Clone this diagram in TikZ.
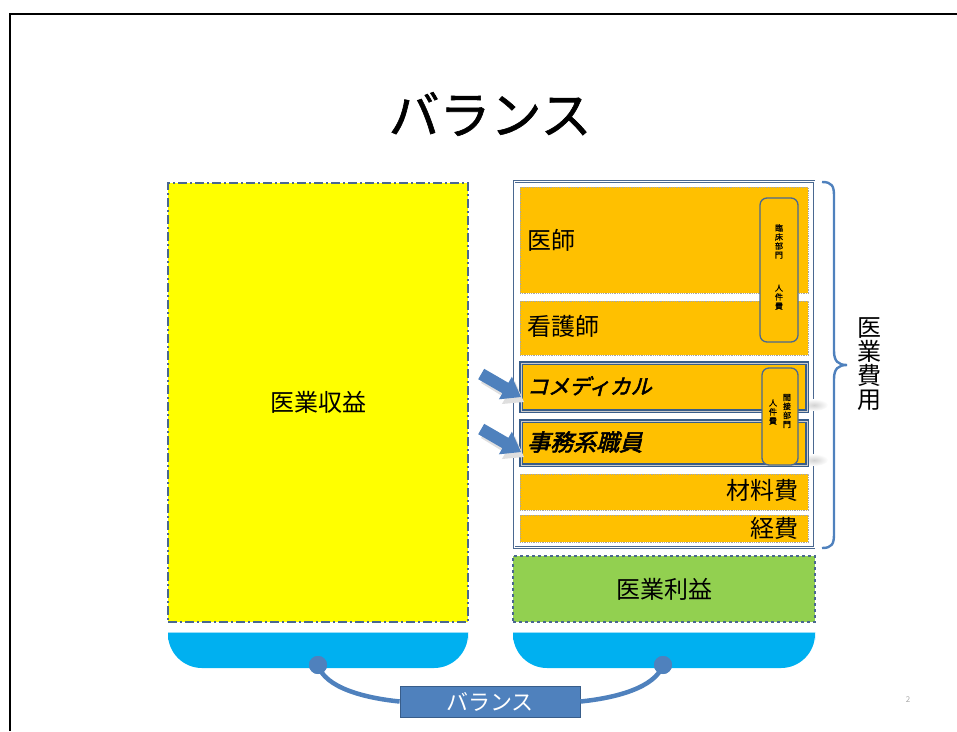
\documentclass[tikz,border=0pt]{standalone}
\usepackage{fontspec}
\setmainfont{Noto Sans CJK JP}
\newfontfamily\jpbi[FakeSlant=0.25,FakeBold=2.5]{Noto Sans CJK JP}
\newfontfamily\jpb[FakeBold=1.2]{Noto Sans CJK JP}
\definecolor{orangeC}{HTML}{FFC000}
\definecolor{yellowC}{HTML}{FFFF00}
\definecolor{greenC}{HTML}{92D050}
\definecolor{cyanC}{HTML}{00B0F0}
\definecolor{blueC}{HTML}{4F81BD}
\definecolor{steelC}{HTML}{4A6890}
\definecolor{blueD}{HTML}{385D8A}
\tikzset{
  fs/.style={font=\fontsize{#1}{#1}\selectfont},
  orangebox/.style={draw=gray!70, densely dotted, line width=0.8pt, fill=orangeC, inner sep=0pt, minimum width=288pt},
  hlbox/.style={draw=blueD, line width=1.6pt, double=gray!40, double distance=0.6pt, fill=orangeC, inner sep=0pt, minimum width=286pt},
  vbox/.style={draw=steelC, line width=1.3pt, rounded corners=7pt, fill=orangeC, inner sep=0pt},
  bluearrow/.style={fill=blueC, draw=none},
  dot/.style={circle, fill=blueC, minimum size=18pt, inner sep=0pt},
  link/.style={draw=blueC, line width=4.5pt},
  lbl/.style={inner sep=0pt, fs=24},
  softshadow/.style={inner color=gray!35, outer color=white},
}
\begin{document}
\begin{tikzpicture}[x=1pt,y=-1pt]
\useasboundingbox (0,0) rectangle (957,731);
% slide frame
\draw[line width=1.2pt] (10,731) -- (10,14) -- (957,14);
% title
\node[font=\jpb\fontsize{51}{51}\selectfont] (title) at (490,114) {バランス};
% revenue
\node[draw=steelC, line width=1.5pt, dash pattern=on 9pt off 3pt on 2pt off 3pt,
      fill=yellowC, minimum width=300pt, minimum height=439pt, inner sep=0pt, fs=24]
      (rev) at (318,402.5) {医業収益};
% expenses frame
\node[draw=steelC, line width=0.9pt, double=white, double distance=1pt, fill=white,
      minimum width=300pt, minimum height=366pt, inner sep=0pt] (exp) at (664,364.5) {};
% soft shadows right of highlighted rows
\shade[softshadow] (814,405) ellipse (14pt and 6pt);
\shade[softshadow] (814,460) ellipse (14pt and 6pt);
% expense rows
\node[orangebox, minimum height=106pt] (doc) at (664,240) {};
\node[orangebox, minimum height=54pt] (nurse) at (664,328) {};
\node[hlbox, minimum height=48pt] (comed) at (664,387) {};
\node[hlbox, minimum height=44pt] (clerk) at (664,443) {};
\node[orangebox, minimum height=36pt] (mat) at (664,492) {};
\node[orangebox, minimum height=27pt] (cost) at (664,528.5) {};
\node[lbl, anchor=west] (doct) at (527,240) {医師};
\node[lbl, anchor=west] (nurset) at (527,326) {看護師};
\node[inner sep=0pt, anchor=west, font=\jpbi\fontsize{21}{21}\selectfont] (comedt) at (527,386) {コメディカル};
\node[inner sep=0pt, anchor=west, font=\jpbi\fontsize{23}{23}\selectfont] (clerkt) at (527,442) {事務系職員};
\node[lbl, anchor=east] (matt) at (799,490) {材料費};
\node[lbl, anchor=east] (costt) at (799,528) {経費};
% personnel cost boxes
\node[vbox, minimum width=38pt, minimum height=144pt] (pc1) at (779,270) {};
\node[inner sep=0pt, align=center, font=\jpb\fontsize{8}{9}\selectfont] (pc1t) at (779,267)
  {臨\\床\\部\\門\\[24pt]人\\件\\費};
\node[vbox, minimum width=36pt, minimum height=97pt] (pc2) at (780,416.5) {};
\node[inner sep=0pt, align=center, font=\jpb\fontsize{8}{9}\selectfont] (pc2a) at (787,411) {間\\接\\部\\門};
\node[inner sep=0pt, align=center, font=\jpb\fontsize{8}{9}\selectfont] (pc2b) at (773,412) {人\\件\\費};
% arrows
\foreach \dy/\nm in {0/ar1, 55/ar2}{
  \begin{scope}[yshift=-\dy pt]
  \fill[gray!25] (481,383) -- (487,373) -- (511,387) -- (514.9,381) -- (524,402) -- (501.9,404) -- (505.4,398) -- cycle;
  \fill[bluearrow] (478.2,379.2) -- (484.2,368.8) -- (508.4,382.8) -- (511.9,376.7) -- (521,397) -- (498.9,399.3) -- (502.4,393.2) -- cycle;
  \end{scope}
}
% brace
\draw[draw=blueC, line width=2.4pt] (822,182) .. controls (832,182) and (834,186) .. (834,196)
  -- (834,351) .. controls (834,361) and (838,365) .. (847,365)
  .. controls (838,365) and (834,369) .. (834,379)
  -- (834,534) .. controls (834,544) and (832,548) .. (822,548);
\node[inner sep=0pt, align=center, font=\fontsize{24}{24}\selectfont] (expt) at (869,364) {医\\業\\費\\用};
% profit
\node[draw=steelC, line width=1.2pt, dashed, fill=greenC, minimum width=302pt, minimum height=66pt,
      inner sep=0pt, fs=24] (profit) at (664,589) {医業利益};
% bowls
\fill[cyanC] (168,632) -- (168,640) [rounded corners=34pt] -- (168,668) -- (468,668) [sharp corners] -- (468,640) -- (468,632) -- cycle;
\fill[cyanC] (513,632) -- (513,640) [rounded corners=34pt] -- (513,668) -- (815,668) [sharp corners] -- (815,640) -- (815,632) -- cycle;
\draw[cyan!40, line width=1pt] (168,632.5) -- (468,632.5);
\draw[cyan!40, line width=1pt] (513,632.5) -- (815,632.5);
% balance
\node[dot] (d1) at (318,665) {};
\node[dot] (d2) at (663,665) {};
\node[draw=blueD, line width=0.8pt, fill=blueC, minimum width=180pt, minimum height=31pt,
      inner sep=0pt, text=white, fs=22] (bal) at (490,701.5) {バランス};
\draw[link] (d1.center) .. controls (325,688) and (365,698) .. (bal.west);
\draw[link] (bal.east) .. controls (615,698) and (655,688) .. (d2.center);
\node[dot] at (d1) {};
\node[dot] at (d2) {};
\node[text=gray!70, fs=8] (pg) at (908,700) {2};
\end{tikzpicture}
\end{document}
